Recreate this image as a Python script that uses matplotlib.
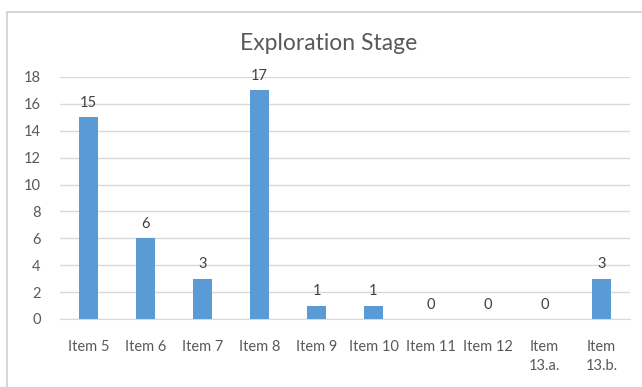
import matplotlib.pyplot as plt
from matplotlib.patches import Rectangle

# chart data
items = ["Item 5", "Item 6", "Item 7", "Item 8", "Item 9", "Item 10",
         "Item 11", "Item 12", "Item\n13.a.", "Item\n13.b."]
counts = [15, 6, 3, 17, 1, 1, 0, 0, 0, 3]
y_ticks = [0, 2, 4, 6, 8, 10, 12, 14, 16, 18]

BAR_COLOUR = "#5B9BD5"
TEXT_COLOUR = "#595959"
GRID_COLOUR = "#D9D9D9"

plt.rcParams["font.family"] = ["Lato", "DejaVu Sans"]

fig = plt.figure(figsize=(6.42, 3.87), dpi=100)

# light chart frame, its right and bottom edges run off the image
fig.patches.append(Rectangle((7 / 642, -0.1), 1.2, 1 - 12 / 387 + 0.1,
                             transform=fig.transFigure, fill=False,
                             edgecolor="#D0D0D0", linewidth=1.2))

axes = fig.add_axes([60 / 642, 1 - 319 / 387, 570 / 642, 242 / 387])

positions = range(len(items))
bars = axes.bar(positions, counts, width=0.32, color=BAR_COLOUR, zorder=3)

# value labels above each bar
for pos, value in zip(positions, counts):
    axes.text(pos, value + 0.55, str(value), ha="center", va="bottom",
              fontsize=10.5, color="#404040")

axes.set_xlim(-0.5, len(items) - 0.5)
axes.set_ylim(0, 18)
axes.set_yticks(y_ticks)
axes.set_xticks(list(positions))
axes.set_xticklabels(items, linespacing=1.45)
axes.tick_params(axis="both", length=0, colors=TEXT_COLOUR, labelsize=10.5)
axes.tick_params(axis="x", pad=15)
axes.tick_params(axis="y", pad=14)
for label in axes.get_xticklabels():
    label.set_verticalalignment("top")

axes.grid(axis="y", color=GRID_COLOUR, linewidth=1, zorder=0)
for side in ["top", "right", "left"]:
    axes.spines[side].set_visible(False)
axes.spines["bottom"].set_color(GRID_COLOUR)

fig.text(329 / 642, 1 - 43 / 387, "Exploration Stage", ha="center",
         va="center", fontsize=16.5, color=TEXT_COLOUR)

fig.savefig("out.png", dpi=100)
